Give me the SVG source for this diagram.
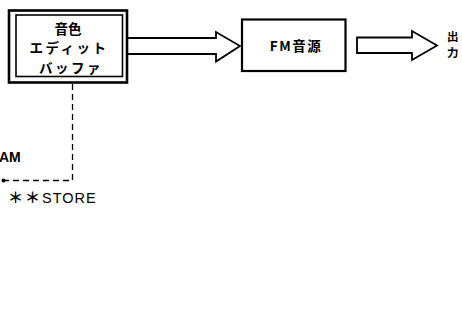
<svg xmlns="http://www.w3.org/2000/svg" width="462" height="330" viewBox="0 0 462 330">
<style>
.b{fill:none;stroke:#000}
.j{font-family:"Noto Sans CJK JP","Liberation Sans",sans-serif;font-weight:bold;fill:#000}
.l{font-family:"Liberation Sans",Arial,sans-serif;fill:#000}
.d{fill:none;stroke:#000;stroke-width:1.3;stroke-dasharray:6,4}
</style>
<rect width="462" height="330" fill="#fff"/>
<g id="buffer">
<rect class="b" x="9" y="10.5" width="118" height="72" stroke-width="2.6"/>
<rect class="b" x="16" y="15" width="106.5" height="61.5" stroke-width="1.6"/>
<text class="j" x="68" y="34" font-size="13.5" text-anchor="middle">音色</text>
<text class="j" x="69" y="53" font-size="13.5" text-anchor="middle" letter-spacing="2.5">エディット</text>
<text class="j" x="71" y="72.5" font-size="13.5" text-anchor="middle" letter-spacing="2.5">バッファ</text>
</g>
<g id="fm">
<rect class="b" x="242" y="19.5" width="103.5" height="51.5" stroke-width="2.2"/>
<text class="j" x="296" y="51" font-size="13.5" text-anchor="middle" letter-spacing="1.5">FM音源</text>
</g>
<g id="output">
<text class="j" x="447" y="41" font-size="11.5">出</text>
<text class="j" x="447" y="57" font-size="11.5">力</text>
</g>
<g id="ram">
<text class="l" x="-1" y="161.5" font-size="14" font-weight="bold">AM</text>
</g>
<g id="store">
<text class="l" x="8" y="202.5" font-size="14.5" letter-spacing="1"><tspan font-family="Noto Sans CJK JP,sans-serif" font-weight="bold" font-size="15" letter-spacing="2">＊＊</tspan>STORE</text>
</g>
<g id="connectors">
<path class="b" stroke-width="1.8" stroke-linejoin="miter" d="M128,38 H216 V32 L240,46 L216,61.5 V54 H128"/>
<path class="b" stroke-width="1.8" stroke-linejoin="miter" d="M357,37.5 H412 V31 L437,45.5 L412,60 V53 H357 Z"/>
<path class="d" d="M72.5,84 V180.5 H4"/>
<circle cx="3.5" cy="180.5" r="2" fill="#000"/>
</g>
</svg>
